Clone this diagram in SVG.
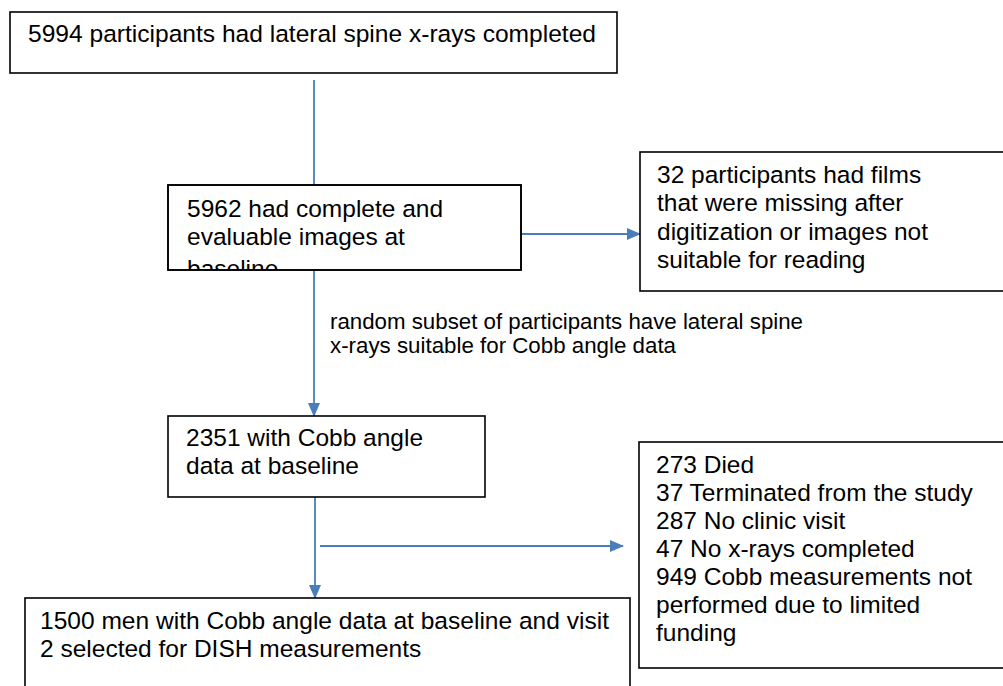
<svg xmlns="http://www.w3.org/2000/svg" width="1003" height="686" viewBox="0 0 1003 686">
  <style>
    .box { fill: #ffffff; stroke: #000000; stroke-width: 1.6; }
    .t { font-family: "Liberation Sans", Arial, sans-serif; font-size: 24.5px; fill: #000000; }
    .lbl { font-family: "Liberation Sans", Arial, sans-serif; font-size: 22px; fill: #000000; }
    .conn { stroke: #4a7ebb; stroke-width: 1.8; fill: none; }
  </style>
  <defs>
    <marker id="arrow" markerWidth="14" markerHeight="12" refX="13" refY="6" orient="auto" markerUnits="userSpaceOnUse">
      <path d="M0,0 L14,6 L0,12 Z" fill="#4a7ebb"/>
    </marker>
    <clipPath id="clip2">
      <rect x="168" y="185" width="353" height="85"/>
    </clipPath>
  </defs>
  <rect width="1003" height="686" fill="#ffffff"/>

  <g id="connectors">
    <line class="conn" x1="314" y1="80" x2="314" y2="185"/>
    <line class="conn" x1="521" y1="234" x2="640" y2="234" marker-end="url(#arrow)"/>
    <line class="conn" x1="314" y1="270" x2="314" y2="416" marker-end="url(#arrow)"/>
    <line class="conn" x1="315" y1="497" x2="315" y2="598" marker-end="url(#arrow)"/>
    <line class="conn" x1="320" y1="546" x2="623" y2="546" marker-end="url(#arrow)"/>
    <text class="lbl" x="330" y="329" textLength="473" lengthAdjust="spacingAndGlyphs">random subset of participants have lateral spine</text>
    <text class="lbl" x="330" y="353" textLength="346" lengthAdjust="spacingAndGlyphs">x-rays suitable for Cobb angle data</text>
  </g>

  <g id="node-5994">
    <rect class="box" x="10" y="12" width="607" height="61"/>
    <text class="t" x="28" y="42" textLength="568" lengthAdjust="spacingAndGlyphs">5994 participants had lateral spine x-rays completed</text>
  </g>

  <g id="node-5962">
    <rect class="box" x="168" y="185" width="353" height="85"/>
    <g clip-path="url(#clip2)">
      <text class="t" x="187" y="217">5962 had complete and</text>
      <text class="t" x="187" y="245">evaluable images at</text>
      <text class="t" x="187" y="277">baseline</text>
    </g>
    <rect x="168" y="185" width="353" height="85" fill="none" stroke="#000" stroke-width="1.6"/>
  </g>

  <g id="node-32">
    <rect class="box" x="640" y="152" width="370" height="139"/>
    <text class="t" x="657" y="183">32 participants had films</text>
    <text class="t" x="657" y="211">that were missing after</text>
    <text class="t" x="657" y="240">digitization or images not</text>
    <text class="t" x="657" y="268">suitable for reading</text>
  </g>

  <g id="node-2351">
    <rect class="box" x="168" y="416" width="317" height="81"/>
    <text class="t" x="186" y="446">2351 with Cobb angle</text>
    <text class="t" x="186" y="474">data at baseline</text>
  </g>

  <g id="node-excluded">
    <rect class="box" x="639" y="442" width="370" height="226"/>
    <text class="t" x="656" y="473">273 Died</text>
    <text class="t" x="656" y="501">37 Terminated from the study</text>
    <text class="t" x="656" y="529">287 No clinic visit</text>
    <text class="t" x="656" y="557">47 No x-rays completed</text>
    <text class="t" x="656" y="585">949 Cobb measurements not</text>
    <text class="t" x="656" y="613">performed due to limited</text>
    <text class="t" x="656" y="641">funding</text>
  </g>

  <g id="node-1500">
    <rect class="box" x="25" y="598" width="605" height="100"/>
    <text class="t" x="40" y="629" textLength="569" lengthAdjust="spacingAndGlyphs">1500 men with Cobb angle data at baseline and visit</text>
    <text class="t" x="40" y="657">2 selected for DISH measurements</text>
  </g>
</svg>
